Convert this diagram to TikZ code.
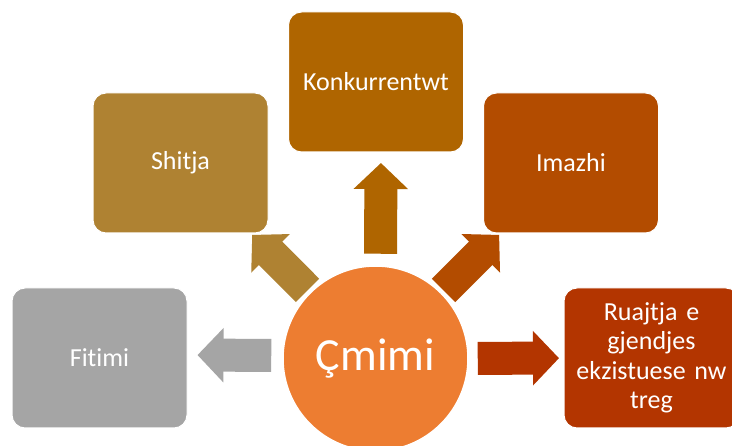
\documentclass[tikz,border=0pt]{standalone}
\usepackage{fontspec}
\setmainfont{Carlito}[Ligatures=NoCommon]
\usetikzlibrary{arrows.meta,positioning,calc,backgrounds}
\definecolor{cgray}{HTML}{A5A5A5}
\definecolor{cgold}{HTML}{AF8232}
\definecolor{cbrown}{HTML}{AF6500}
\definecolor{crust}{HTML}{B34C00}
\definecolor{cred}{HTML}{B33500}
\definecolor{corange}{HTML}{ED7D31}
\tikzset{
  box/.style={draw=white, line width=1pt, rounded corners=13pt, minimum width=175pt, minimum height=140pt, inner sep=4pt, align=center, text=white, font=\fontsize{26}{29.5}\selectfont},
  hub/.style={circle, draw=white, line width=1.5pt, fill=corange, minimum size=185pt, inner sep=0pt, text=white, font=\fontsize{46}{55}\selectfont},
  bigar/.style={line width=33pt, -{Triangle[width=53pt,length=26pt]}},
}

\begin{document}
\begin{tikzpicture}[x=1pt,y=-1pt]
  \clip (0,0) rectangle (732,446);
  \node[hub] (cm) at (375.5,358.5) {Çmimi};
  \node[box, fill=cgray] (fit) at (99.5,358) {Fitimi};
  \node[box, fill=cgold] (sh) at (180.5,163) {Shitja};
  \node[box, fill=cbrown] (kon) at (376,82) {Konkurrentwt};
  \node[box, fill=crust] (im) at (571,163) {Imazhi};
  \node[box, fill=cred, text width=165pt] (ru) at (651.5,358) {Ruajtja e\\gjendjes\\ekzistuese nw\\treg};
  % block arrows go under the circle
  \begin{scope}[on background layer]
    \fill[white] (0,0) rectangle (732,446);
    \draw[bigar, color=cgray, shorten <=11pt, shorten >=10pt] ([yshift=3pt]cm.west) -- ([yshift=3pt]fit.east);
    \draw[bigar, color=cgold, shorten <=3pt, shorten >=2pt] (cm) -- (sh);
    \draw[bigar, color=cbrown, shorten <=11.5pt, shorten >=10.5pt] ([xshift=5pt]cm.north) -- ([xshift=5pt]kon.south);
    \draw[bigar, color=crust, shorten <=3pt, shorten >=2pt] (cm) -- (im);
    \draw[bigar, color=cred, shorten <=9pt, shorten >=4.5pt] (cm) -- (ru);
  \end{scope}
\end{tikzpicture}
\end{document}
